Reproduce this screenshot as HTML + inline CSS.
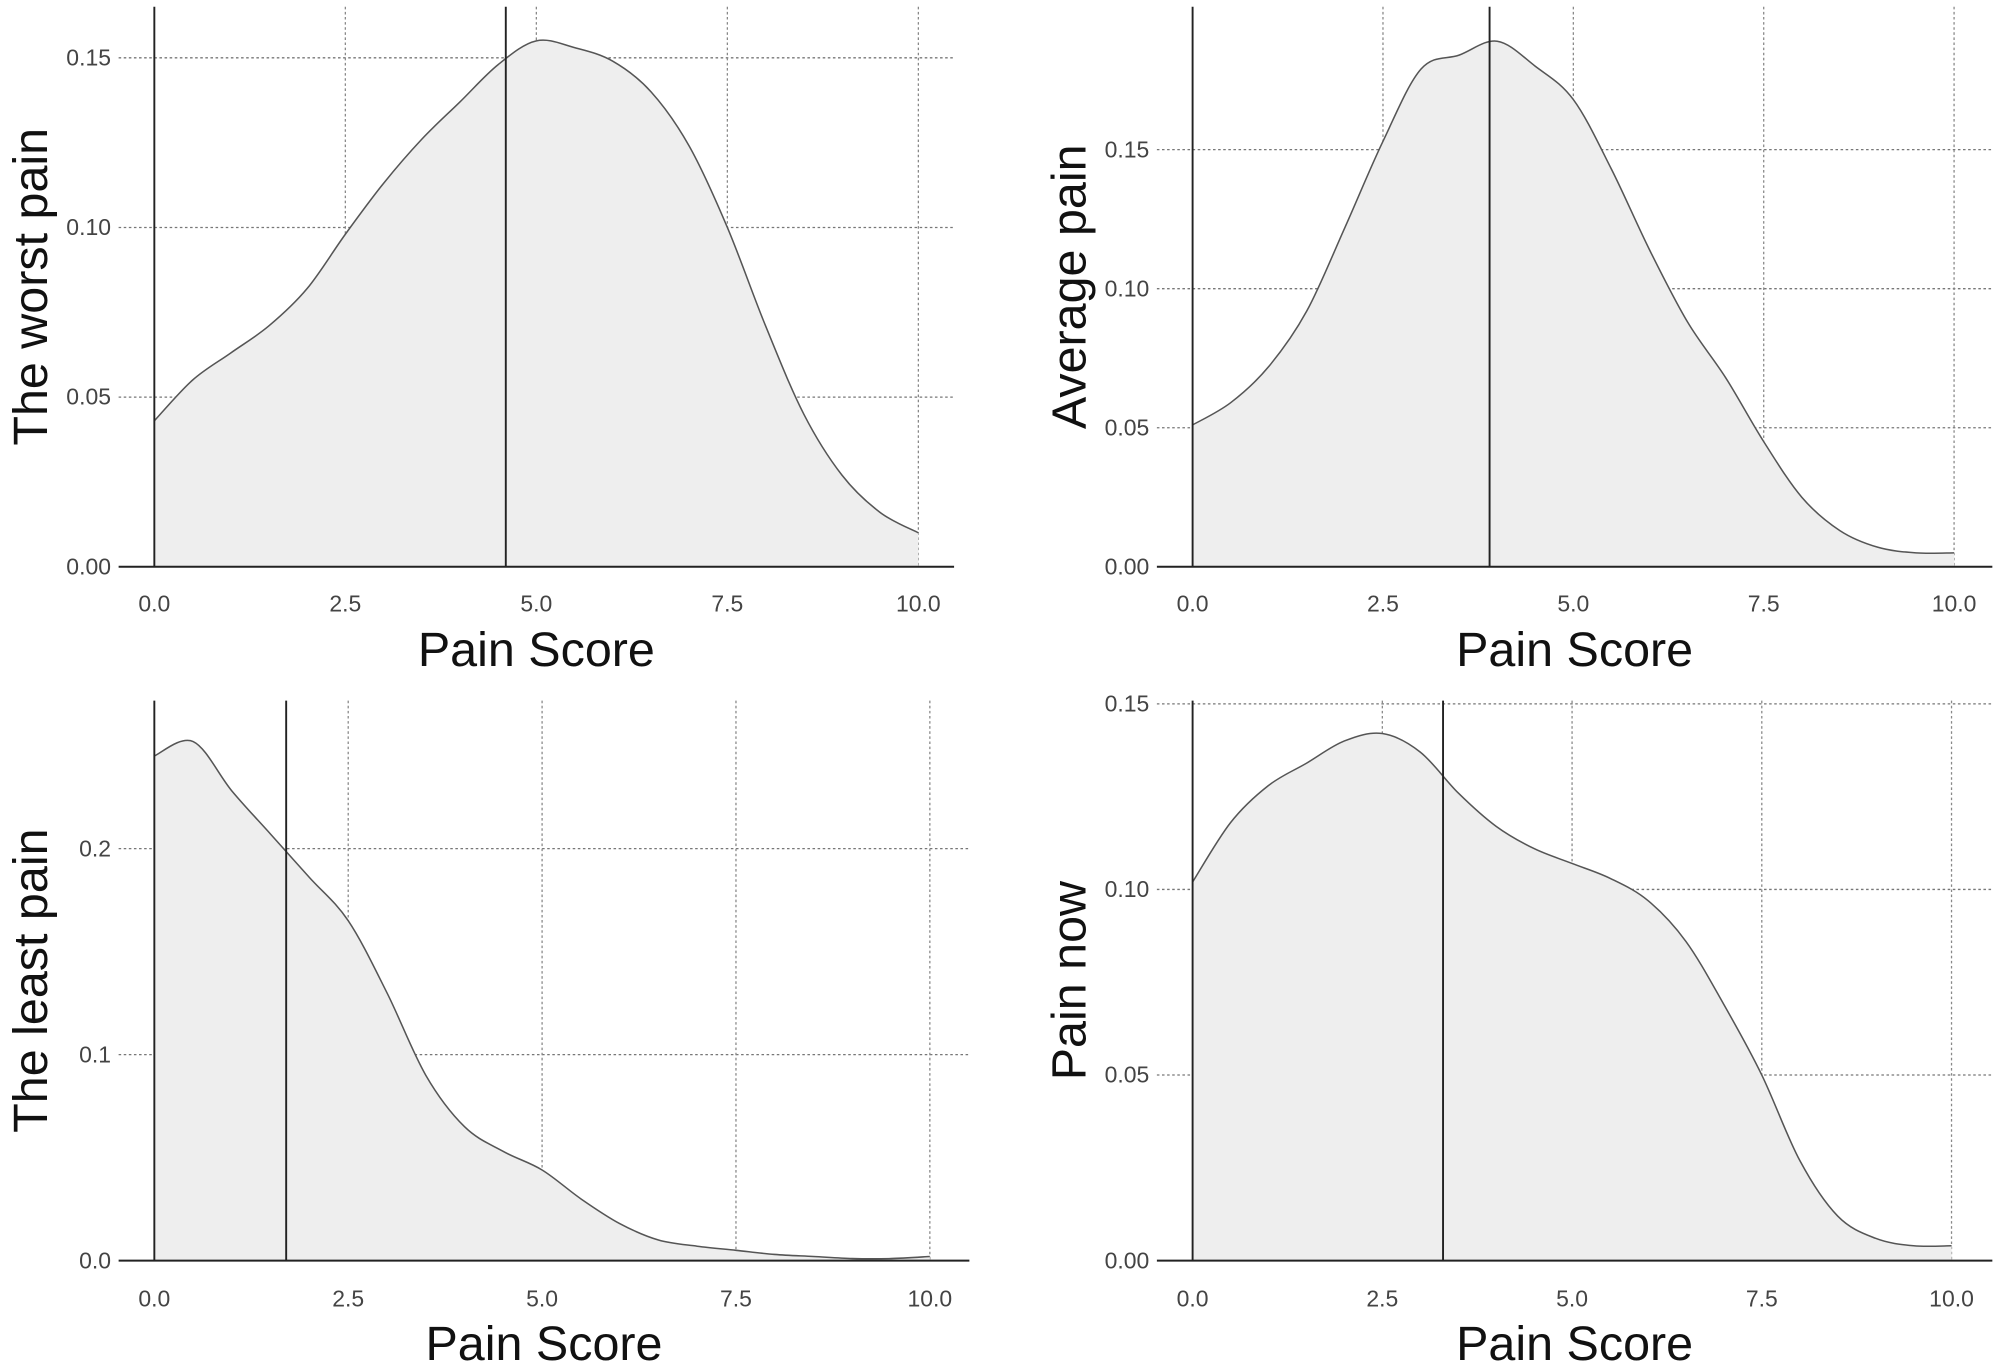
<!DOCTYPE html>
<html><head><meta charset="utf-8"><style>
html,body{margin:0;padding:0;background:#fff}
svg{display:block}
text{font-family:"Liberation Sans",sans-serif}
</style></head><body>
<svg id="chart" width="2000" height="1372" viewBox="0 0 1568 1075" xmlns="http://www.w3.org/2000/svg"></svg>
<script>
const xs = [0,0.5,1,1.5,2,2.5,3,3.5,4,4.5,5,5.5,6,6.5,7,7.5,8,8.5,9,9.5,10];
const worstVals = [0.043,0.055,0.063,0.071,0.082,0.098,0.113,0.126,0.137,0.148,0.155,0.153,0.149,0.140,0.124,0.100,0.071,0.045,0.027,0.016,0.010];
const averageVals = [0.051,0.059,0.072,0.092,0.122,0.153,0.179,0.184,0.189,0.180,0.168,0.143,0.114,0.088,0.068,0.045,0.025,0.013,0.007,0.005,0.005];
const leastVals = [0.245,0.252,0.228,0.207,0.186,0.165,0.130,0.090,0.065,0.053,0.044,0.030,0.018,0.010,0.007,0.005,0.003,0.002,0.001,0.001,0.002];
const nowVals = [0.102,0.118,0.128,0.134,0.140,0.142,0.137,0.126,0.117,0.111,0.107,0.103,0.097,0.086,0.069,0.050,0.027,0.012,0.006,0.004,0.004];
const means = [4.6,3.9,1.7,3.3];
const xTicks = [0,2.5,5,7.5,10];
const xTickLabels = ["0.0","2.5","5.0","7.5","10.0"];
const yTicksA = [0,0.05,0.10,0.15];
const yTickLabelsA = ["0.00","0.05","0.10","0.15"];
const yTicksC = [0,0.1,0.2];
const yTickLabelsC = ["0.0","0.1","0.2"];

const NS="http://www.w3.org/2000/svg";
const svg=document.getElementById('chart');
function mk(tag,attrs,parent){const e=document.createElementNS(NS,tag);for(const k in attrs)e.setAttribute(k,attrs[k]);(parent||svg).appendChild(e);return e;}

const panels=[
 {name:'worst',title:'The worst pain',vals:worstVals,mean:means[0],yt:yTicksA,yl:yTickLabelsA,x0:121,x1:720,y0:444,yPer:2660,left:93,right:748,top:5,xl:479,xt:508},
 {name:'average',title:'Average pain',vals:averageVals,mean:means[1],yt:yTicksA,yl:yTickLabelsA,x0:935,x1:1532,y0:444,yPer:2180,left:907,right:1562,top:5,xl:479,xt:508},
 {name:'least',title:'The least pain',vals:leastVals,mean:means[2],yt:yTicksC,yl:yTickLabelsC,x0:121,x1:729,y0:988,yPer:1615,left:93,right:760,top:549,xl:1024,xt:1052},
 {name:'now',title:'Pain now',vals:nowVals,mean:means[3],yt:yTicksA,yl:yTickLabelsA,x0:935,x1:1530,y0:988,yPer:2910,left:907,right:1562,top:549,xl:1024,xt:1052}
];

panels.forEach(p=>{
 const g=mk('g',{});
 
 
 const X=v=>p.x0+(p.x1-p.x0)*v/10;
 const Y=v=>p.y0-v*p.yPer;
 p.yt.forEach((t,i)=>{
  if(t>0){const l=mk('line',{x1:p.left,x2:p.right,y1:Y(t),y2:Y(t),stroke:'#777','stroke-width':1,'stroke-dasharray':'2,2'},g);
   }
  const tx=mk('text',{x:p.left-6,y:Y(t)+6,'text-anchor':'end','font-size':18,fill:'#444'},g);
  tx.textContent=p.yl[i];
  
 });
 xTicks.forEach((t,i)=>{
  if(t>0){const l=mk('line',{x1:X(t),x2:X(t),y1:p.top,y2:p.y0,stroke:'#888','stroke-width':1,'stroke-dasharray':'2,2'},g);
   }
  const tx=mk('text',{x:X(t),y:p.xl,'text-anchor':'middle','font-size':18,fill:'#444'},g);
  tx.textContent=xTickLabels[i];
  
 });
 const pts=xs.map((x,i)=>[X(x),Y(p.vals[i])]);
 let d='M'+pts[0][0]+','+pts[0][1];
 for(let i=0;i<pts.length-1;i++){
  const p0=pts[Math.max(0,i-1)],p1=pts[i],p2=pts[i+1],p3=pts[Math.min(pts.length-1,i+2)];
  const c1=[p1[0]+(p2[0]-p0[0])/6,p1[1]+(p2[1]-p0[1])/6];
  const c2=[p2[0]-(p3[0]-p1[0])/6,p2[1]-(p3[1]-p1[1])/6];
  d+=` C${c1[0]},${c1[1]} ${c2[0]},${c2[1]} ${p2[0]},${p2[1]}`;
 }
 const area=mk('path',{d:d+` L${X(10)},${p.y0} L${X(0)},${p.y0} Z`,fill:'#eeeeee',stroke:'none'},g);
 
 const line=mk('path',{d:d,fill:'none',stroke:'#555','stroke-width':1.2},g);
 
 const ax=mk('line',{x1:p.left,x2:p.right,y1:p.y0,y2:p.y0,stroke:'#222','stroke-width':1.5},g);
 
 const ay=mk('line',{x1:X(0),x2:X(0),y1:p.top,y2:p.y0,stroke:'#222','stroke-width':1.5},g);
 
 const ml=mk('line',{x1:X(p.mean),x2:X(p.mean),y1:p.top,y2:p.y0,stroke:'#222','stroke-width':1.5},g);
 
 const xt=mk('text',{x:(p.left+p.right)/2,y:p.xt+14,'text-anchor':'middle','font-size':38,fill:'#111'},g);
 xt.textContent='Pain Score';
 
 const cy=(p.top+p.y0)/2;
 const yt=mk('text',{x:0,y:0,'text-anchor':'middle','font-size':38,fill:'#111',transform:`translate(${p.left-56},${cy}) rotate(-90)`},g);
 yt.textContent=p.title;
 
});
</script>
</body></html>
